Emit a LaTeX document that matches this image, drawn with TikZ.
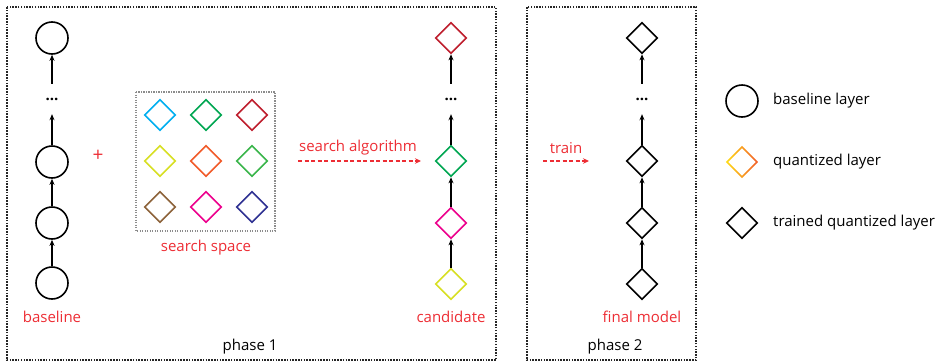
\documentclass[tikz,border=0pt]{standalone}
\usepackage{fontspec}
\setmainfont{Open Sans}
\usetikzlibrary{shapes.geometric,arrows.meta}

\definecolor{lblred}{RGB}{237,45,52}
\definecolor{qcyan}{RGB}{0,174,239}
\definecolor{qgreen}{RGB}{0,166,81}
\definecolor{qdarkred}{RGB}{190,30,45}
\definecolor{qyellow}{RGB}{215,223,35}
\definecolor{qorange}{RGB}{241,90,41}
\definecolor{qlgreen}{RGB}{57,181,74}
\definecolor{qbrown}{RGB}{140,98,57}
\definecolor{qpink}{RGB}{236,0,140}
\definecolor{qnavy}{RGB}{46,49,146}
\definecolor{gyellow}{RGB}{255,221,21}
\definecolor{gorange}{RGB}{241,90,41}

\tikzset{
  layer/.style={circle, draw=black, line width=1.6pt, minimum size=32pt, inner sep=0pt},
  qlayer/.style={diamond, draw=#1, line width=1.6pt, minimum width=31pt, minimum height=31pt, inner sep=0pt},
  ellip/.style={minimum height=30pt, inner sep=0pt, text height=2pt, text depth=0pt,
    font=\fontsize{15}{15}\selectfont\bfseries},
  arr/.style={-{Stealth[length=6pt,width=5pt]}, line width=1.5pt, black},
  redarr/.style={-{Stealth[length=6pt,width=5.5pt]}, dash pattern=on 4pt off 2.5pt, line width=1.3pt, lblred},
  lbl/.style={text=lblred, font=\fontsize{15}{17}\selectfont, inner sep=0pt},
  txt/.style={text=black, font=\fontsize{15}{17}\selectfont, inner sep=0pt},
  phasebox/.style={draw=black!85, line width=1.5pt, dash pattern=on 1.5pt off 1.3pt},
  spacebox/.style={draw=black!45, line width=1.3pt, dash pattern=on 1.3pt off 1.2pt},
}

\begin{document}
\begin{tikzpicture}[x=1pt, y=-1pt]
\useasboundingbox (0,0) rectangle (942,362);

% phase frames
\draw[phasebox] (7,7) rectangle (496,360);
\draw[phasebox] (527,7) rectangle (696,360);
\node[txt] (p1) at (250,347) {phase 1};
\node[txt] (p2) at (615,347) {phase 2};

% baseline stack
\node[layer] (b1) at (52,283) {};
\node[layer] (b2) at (52,223) {};
\node[layer] (b3) at (52,162) {};
\node[ellip] (bd) at (52,99) {...};
\node[layer] (b4) at (52,38) {};
\draw[arr] (b1) -- (b2);
\draw[arr] (b2) -- (b3);
\draw[arr] (b3) -- (bd);
\draw[arr] (bd) -- (b4);
\node[lbl] (blbl) at (52,317) {baseline};

\node[lbl, font=\fontsize{19}{19}\selectfont] (plus) at (98,156) {+};

% search space
\draw[spacebox] (136,92) rectangle (275,231);
\node[qlayer=qcyan]    (s11) at (160,115) {};
\node[qlayer=qgreen]   (s12) at (206,115) {};
\node[qlayer=qdarkred] (s13) at (252,115) {};
\node[qlayer=qyellow]  (s21) at (160,161) {};
\node[qlayer=qorange]  (s22) at (206,161) {};
\node[qlayer=qlgreen]  (s23) at (252,161) {};
\node[qlayer=qbrown]   (s31) at (160,207) {};
\node[qlayer=qpink]    (s32) at (206,207) {};
\node[qlayer=qnavy]    (s33) at (252,207) {};
\node[lbl] (sslbl) at (206,248) {search space};

% search algorithm
\node[lbl] (salbl) at (358,148) {search algorithm};
\coordinate (sa0) at (298,161);
\coordinate (sa1) at (421,161);
\draw[redarr] (sa0) -- (sa1);

% candidate stack
\node[qlayer=qyellow]  (c1) at (451,284) {};
\node[qlayer=qpink]    (c2) at (451,223) {};
\node[qlayer=qgreen]   (c3) at (451,161) {};
\node[ellip] (cd) at (451,99) {...};
\node[qlayer=qdarkred] (c4) at (451,38) {};
\draw[arr] (c1) -- (c2);
\draw[arr] (c2) -- (c3);
\draw[arr] (c3) -- (cd);
\draw[arr] (cd) -- (c4);
\node[lbl] (clbl) at (451,317) {candidate};

% train
\node[lbl] (trlbl) at (566,148) {train};
\coordinate (tr0) at (543,161);
\coordinate (tr1) at (589,161);
\draw[redarr] (tr0) -- (tr1);

% final model stack
\node[qlayer=black] (f1) at (642,284) {};
\node[qlayer=black] (f2) at (642,223) {};
\node[qlayer=black] (f3) at (642,161) {};
\node[ellip] (fd) at (642,99) {...};
\node[qlayer=black] (f4) at (642,38) {};
\draw[arr] (f1) -- (f2);
\draw[arr] (f2) -- (f3);
\draw[arr] (f3) -- (fd);
\draw[arr] (fd) -- (f4);
\node[lbl] (flbl) at (642,317) {final model};

% legend
\node[layer] (lg1) at (742,101) {};
\node[txt, anchor=west] (lt1) at (773,101) {baseline layer};
\node[diamond, minimum width=32pt, minimum height=32pt, inner sep=0pt] (lg2) at (742,162) {};
\shade[left color=gyellow, right color=gorange, even odd rule]
  (lg2.north) -- (lg2.east) -- (lg2.south) -- (lg2.west) -- cycle
  ([yshift=-2.3pt]lg2.north) -- ([xshift=-2.3pt]lg2.east) -- ([yshift=2.3pt]lg2.south) -- ([xshift=2.3pt]lg2.west) -- cycle;
\node[txt, anchor=west] (lt2) at (773,162) {quantized layer};
\node[qlayer=black] (lg3) at (742,223) {};
\node[txt, anchor=west] (lt3) at (773,223) {trained quantized layer};
\end{tikzpicture}
\end{document}
